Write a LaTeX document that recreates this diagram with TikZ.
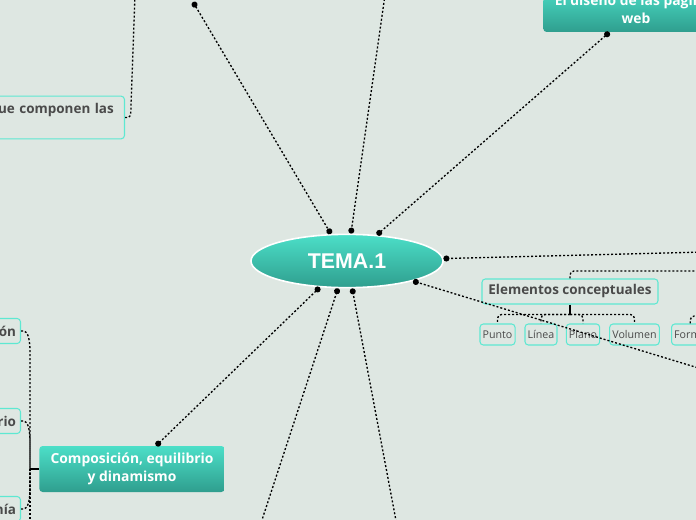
\documentclass[tikz,border=0pt]{standalone}
\usepackage{fontspec}
\setmainfont{Open Sans}
\newfontfamily\hubfont{Liberation Sans}
\usetikzlibrary{shapes.geometric,arrows.meta}
\definecolor{bgcol}{HTML}{DEE7E2}
\definecolor{tealtop}{HTML}{4CDFC8}
\definecolor{tealbot}{HTML}{2F9E8E}
\definecolor{tealline}{HTML}{5EE8D2}
\definecolor{txtgrey}{HTML}{4A4A4A}
\begin{document}
\begin{tikzpicture}[
        x=0.75pt, y=-0.75pt,
        hub/.style={
            ellipse,
            draw=white,
            line width=1.2pt,
            top color=tealtop,
            bottom color=tealbot,
            minimum width=144pt,
            minimum height=40pt,
            text=white,
            font=\hubfont\bfseries\fontsize{16}{19}\selectfont
        },
        topic/.style={
            rounded corners=2.5pt,
            top color=tealtop,
            bottom color=tealbot,
            minimum width=139pt,
            minimum height=34.5pt,
            align=center,
            text=white,
            font=\bfseries\fontsize{10.4}{13.5}\selectfont
        },
        sub/.style={
            draw=tealline,
            rounded corners=2.5pt,
            line width=0.8pt,
            minimum height=18.75pt,
            text=txtgrey,
            font=\bfseries\fontsize{10.1}{13.5}\selectfont
        },
        leaf/.style={
            draw=tealline,
            rounded corners=2.5pt,
            line width=0.8pt,
            minimum height=15.75pt,
            inner xsep=2pt,
            text=txtgrey,
            font=\fontsize{8}{10}\selectfont
        },
        link/.style={line width=1pt, dash pattern=on 1.5pt off 1.5pt},
        bar/.style={line width=1.2pt},
        dotend/.style={-{Circle[length=4.5pt]}},
        dotboth/.style={{Circle[length=4.5pt]}-{Circle[length=4.5pt]}}
    ]

    % Page
    \useasboundingbox (0,0) rectangle (696,520);
    \clip (0,0) rectangle (696,520);
    \fill[bgcol] (0,0) rectangle (696,520);

    % Central topic
    \node[hub] (tema) at (347,261) {TEMA.1};

    % Main topics
    \node[topic] (diseno) at (636,9) {El diseño de las páginas\\web};
    \node[topic] (compo) at (132,469) {Composición, equilibrio\\y dinamismo};
    \node[sub, anchor=east, text width=150pt, align=right, inner xsep=8pt,
        minimum height=32pt] (imgs) at (125,117.5) {ue componen las\\\mbox{}};
    \node[sub, minimum width=132pt] (elem) at (570,291.5) {Elementos conceptuales};

    % Elements
    \node[leaf] (punto) at (497.5,334.5) {Punto};
    \node[leaf] (linea) at (541,334.5) {Línea};
    \node[leaf] (plano) at (583,334.5) {Plano};
    \node[leaf] (volumen) at (634.5,334.5) {Volumen};
    \node[leaf, anchor=west] (forma) at (671,334.5) {Forma};

    % Composition items
    \node[sub, anchor=east, text width=50pt, align=right] (c1) at (21,331) {ón};
    \node[sub, anchor=east, text width=50pt, align=right] (c2) at (21,421) {rio};
    \node[sub, anchor=east, text width=50pt, align=right] (c3) at (21,509) {nía};

    % Off-page ends
    \coordinate (n1) at (135,-5);
    \coordinate (n2) at (193,2);
    \coordinate (n3) at (385,-5);
    \coordinate (n5) at (705,252);
    \coordinate (n6) at (705,271);
    \coordinate (n7) at (705,370);
    \coordinate (n9) at (260,526);
    \coordinate (n10) at (397,526);
    \coordinate (n12) at (705,316);
    \coordinate (c4) at (30,530);

    % Branches of the central topic
    \draw[link, dotboth] (n2) -- (tema);
    \draw[link, dotend] (n3) -- (tema);
    \draw[link, dotboth] (diseno) -- (tema);
    \draw[link, dotend] (n5) -- (tema);
    \draw[link, dotend] (n7) -- (tema);
    \draw[link, dotboth] (tema) -- (compo);
    \draw[link, dotend] (n9) -- (tema);
    \draw[link, dotend] (n10) -- (tema);

    % Top-left topic
    \draw[link] (imgs.east) -- ++(3,0) .. controls +(3,0) and +(0,5) .. ++(3,-12) -- (n1);

    % Elementos conceptuales
    \draw[link, rounded corners=3pt] (elem.north) |- (n6);
    \draw[bar] (elem.south) -- ++(0,10) coordinate (ej);
    \foreach \c in {punto,linea,plano,volumen}
        \draw[link, rounded corners=3pt] (ej) -| (\c.north);
    \draw[link, rounded corners=3pt] (forma.north) |- (n12);

    % Composition items
    \coordinate (cj) at (30,469);
    \draw[bar] (compo.west) -- (cj);
    \draw[link] (c1.east) -- ++(3,0) .. controls +(4,0) and +(0,-10) .. ++(6,20) -- (cj);
    \draw[link] (c2.east) -- ++(3,0) .. controls +(4,0) and +(0,-10) .. ++(6,20) -- (cj);
    \draw[link] (c3.east) -- ++(3,0) .. controls +(4,0) and +(0,10) .. ++(6,-20) -- (cj);
    \draw[link] (cj) -- (c4);

\end{tikzpicture}
\end{document}
